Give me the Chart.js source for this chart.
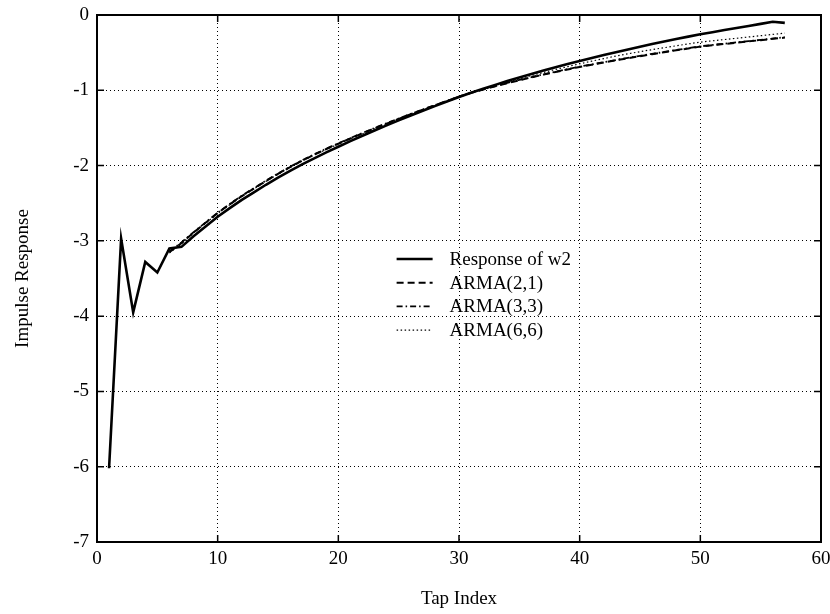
<!DOCTYPE html>
<html>
<head>
<meta charset="utf-8">
<script src="https://cdn.jsdelivr.net/npm/chart.js@4/dist/chart.umd.min.js"></script>
<style>
  html, body { margin: 0; padding: 0; background: #fff; }
  #wrap { width: 830px; height: 614px; }
</style>
</head>
<body>
<div id="wrap"><canvas id="chart"></canvas></div>
<script>
// tap index 1..57
const taps = [1, 2, 3, 4, 5, 6, 7, 8, 9, 10, 11, 12, 13, 14, 15, 16, 17, 18, 19, 20,
    21, 22, 23, 24, 25, 26, 27, 28, 29, 30, 31, 32, 33, 34, 35, 36, 37, 38, 39, 40,
    41, 42, 43, 44, 45, 46, 47, 48, 49, 50, 51, 52, 53, 54, 55, 56, 57];

const responseW2 = [-6.02, -2.97, -3.95, -3.28, -3.42, -3.10, -3.08, -2.94, -2.81, -2.68,
    -2.565, -2.455, -2.355, -2.255, -2.16, -2.07, -1.985, -1.905, -1.825, -1.75,
    -1.676, -1.604, -1.534, -1.466, -1.40, -1.335, -1.272, -1.21, -1.15, -1.09,
    -1.034, -0.98, -0.928, -0.878, -0.83, -0.783, -0.738, -0.694, -0.652, -0.611,
    -0.571, -0.532, -0.494, -0.457, -0.421, -0.386, -0.352, -0.319, -0.287, -0.256,
    -0.228, -0.20, -0.172, -0.145, -0.118, -0.09, -0.105];

const arma21 = [null, null, null, null, null, -3.15, -3.03, -2.89, -2.76, -2.63,
    -2.515, -2.405, -2.305, -2.205, -2.11, -2.02, -1.935, -1.855, -1.78, -1.71,
    -1.64, -1.572, -1.506, -1.442, -1.379, -1.318, -1.258, -1.20, -1.143, -1.085,
    -1.034, -0.99, -0.947, -0.906, -0.867, -0.829, -0.792, -0.757, -0.723, -0.69,
    -0.66, -0.631, -0.602, -0.574, -0.547, -0.52, -0.494, -0.469, -0.444, -0.42,
    -0.402, -0.385, -0.368, -0.351, -0.334, -0.317, -0.30];

const arma33 = [null, null, null, null, null, -3.14, -3.02, -2.885, -2.755, -2.625,
    -2.51, -2.40, -2.30, -2.20, -2.105, -2.015, -1.93, -1.85, -1.775, -1.705,
    -1.635, -1.567, -1.501, -1.437, -1.375, -1.314, -1.255, -1.197, -1.14, -1.083,
    -1.032, -0.987, -0.944, -0.902, -0.863, -0.825, -0.788, -0.753, -0.719, -0.686,
    -0.656, -0.627, -0.598, -0.570, -0.543, -0.516, -0.49, -0.465, -0.44, -0.416,
    -0.398, -0.381, -0.364, -0.347, -0.33, -0.313, -0.296];

const arma66 = [null, null, null, null, null, -3.16, -3.04, -2.895, -2.765, -2.635,
    -2.52, -2.41, -2.31, -2.21, -2.115, -2.025, -1.94, -1.86, -1.785, -1.715,
    -1.645, -1.577, -1.51, -1.445, -1.382, -1.32, -1.26, -1.202, -1.145, -1.088,
    -1.03, -0.982, -0.935, -0.89, -0.846, -0.804, -0.763, -0.723, -0.685, -0.648,
    -0.613, -0.579, -0.546, -0.516, -0.487, -0.46, -0.434, -0.409, -0.384, -0.36,
    -0.343, -0.326, -0.309, -0.292, -0.275, -0.258, -0.241];

const seriesNames = ['Response of w2', 'ARMA(2,1)', 'ARMA(3,3)', 'ARMA(6,6)'];
const xTicks = [0, 10, 20, 30, 40, 50, 60];
const yTicks = [0, -1, -2, -3, -4, -5, -6, -7];

const serif = "'Liberation Serif', 'DejaVu Serif', serif";

function toPoints(values) {
    return taps.map((t, i) => ({ x: t, y: values[i] }));
}

// frame round the plot area, with short ticks pointing inward
const frameBox = {
    id: 'frameBox',
    afterDraw(chart) {
        const a = chart.chartArea;
        const ctx = chart.ctx;
        const len = 7;
        ctx.save();
        ctx.strokeStyle = '#000';
        ctx.setLineDash([]);
        ctx.lineWidth = 1.5;
        ctx.beginPath();
        xTicks.forEach(v => {
            const px = chart.scales.x.getPixelForValue(v);
            ctx.moveTo(px, a.bottom); ctx.lineTo(px, a.bottom - len);
            ctx.moveTo(px, a.top); ctx.lineTo(px, a.top + len);
        });
        yTicks.forEach(v => {
            const py = chart.scales.y.getPixelForValue(v);
            ctx.moveTo(a.left, py); ctx.lineTo(a.left + len, py);
            ctx.moveTo(a.right, py); ctx.lineTo(a.right - len, py);
        });
        ctx.stroke();
        ctx.lineWidth = 2;
        ctx.strokeRect(a.left, a.top, a.right - a.left, a.bottom - a.top);
        ctx.restore();
    }
};

// legend drawn inside the plot, no box
const insideLegend = {
    id: 'insideLegend',
    afterDatasetsDraw(chart) {
        const ctx = chart.ctx;
        const x0 = chart.scales.x.getPixelForValue(24.83);
        const y0 = chart.scales.y.getPixelForValue(-3.24);
        ctx.save();
        ctx.font = "19px " + serif;
        ctx.fillStyle = '#000';
        ctx.textBaseline = 'middle';
        chart.data.datasets.forEach((ds, i) => {
            const y = y0 + i * 23.7;
            ctx.beginPath();
            ctx.strokeStyle = '#000';
            ctx.lineWidth = ds.borderWidth;
            ctx.setLineDash(ds.borderDash || []);
            ctx.moveTo(x0, y);
            ctx.lineTo(x0 + 36, y);
            ctx.stroke();
            ctx.setLineDash([]);
            ctx.fillText(ds.label, x0 + 53, y + 1);
        });
        ctx.restore();
    }
};

const ctx = document.getElementById('chart').getContext('2d');
new Chart(ctx, {
    type: 'line',
    data: {
        datasets: [
            { label: seriesNames[0], data: toPoints(responseW2), borderColor: '#000', borderWidth: 2.6, borderDash: [] },
            { label: seriesNames[1], data: toPoints(arma21), borderColor: '#000', borderWidth: 2, borderDash: [7, 4] },
            { label: seriesNames[2], data: toPoints(arma33), borderColor: '#000', borderWidth: 1.8, borderDash: [6, 3, 1.5, 3] },
            { label: seriesNames[3], data: toPoints(arma66), borderColor: '#000', borderWidth: 1.2, borderDash: [1.5, 2.5] }
        ]
    },
    options: {
        responsive: true,
        maintainAspectRatio: false,
        animation: false,
        elements: { point: { radius: 0 }, line: { tension: 0 } },
        layout: { padding: { top: 15, right: 9, left: 0, bottom: 0 } },
        plugins: { legend: { display: false }, tooltip: { enabled: false } },
        scales: {
            x: {
                type: 'linear',
                min: 0,
                max: 60,
                afterBuildTicks: (scale) => { scale.ticks = xTicks.map(v => ({ value: v })); },
                afterFit: (scale) => { scale.height = 72; scale.paddingRight = 0; scale.paddingLeft = 0; },
                grid: { color: '#000', lineWidth: 1, drawTicks: false },
                border: { display: true, color: '#000', width: 2, dash: [1, 3] },
                ticks: { color: '#000', font: { family: serif, size: 19 }, padding: 6, maxRotation: 0 },
                title: { display: true, text: 'Tap Index', color: '#000', font: { family: serif, size: 19 }, padding: { top: 10 } }
            },
            y: {
                min: -7,
                max: 0,
                afterBuildTicks: (scale) => { scale.ticks = yTicks.map(v => ({ value: v })); },
                afterFit: (scale) => { scale.width = 97; scale.paddingTop = 0; scale.paddingBottom = 0; },
                grid: { color: '#000', lineWidth: 1, drawTicks: false },
                border: { display: true, color: '#000', width: 2, dash: [1, 3] },
                ticks: { color: '#000', font: { family: serif, size: 19 }, padding: 8 },
                title: { display: true, text: 'Impulse Response', color: '#000', font: { family: serif, size: 19 }, padding: { top: 12, bottom: 0 } }
            }
        }
    },
    plugins: [insideLegend, frameBox]
});
</script>
</body>
</html>
